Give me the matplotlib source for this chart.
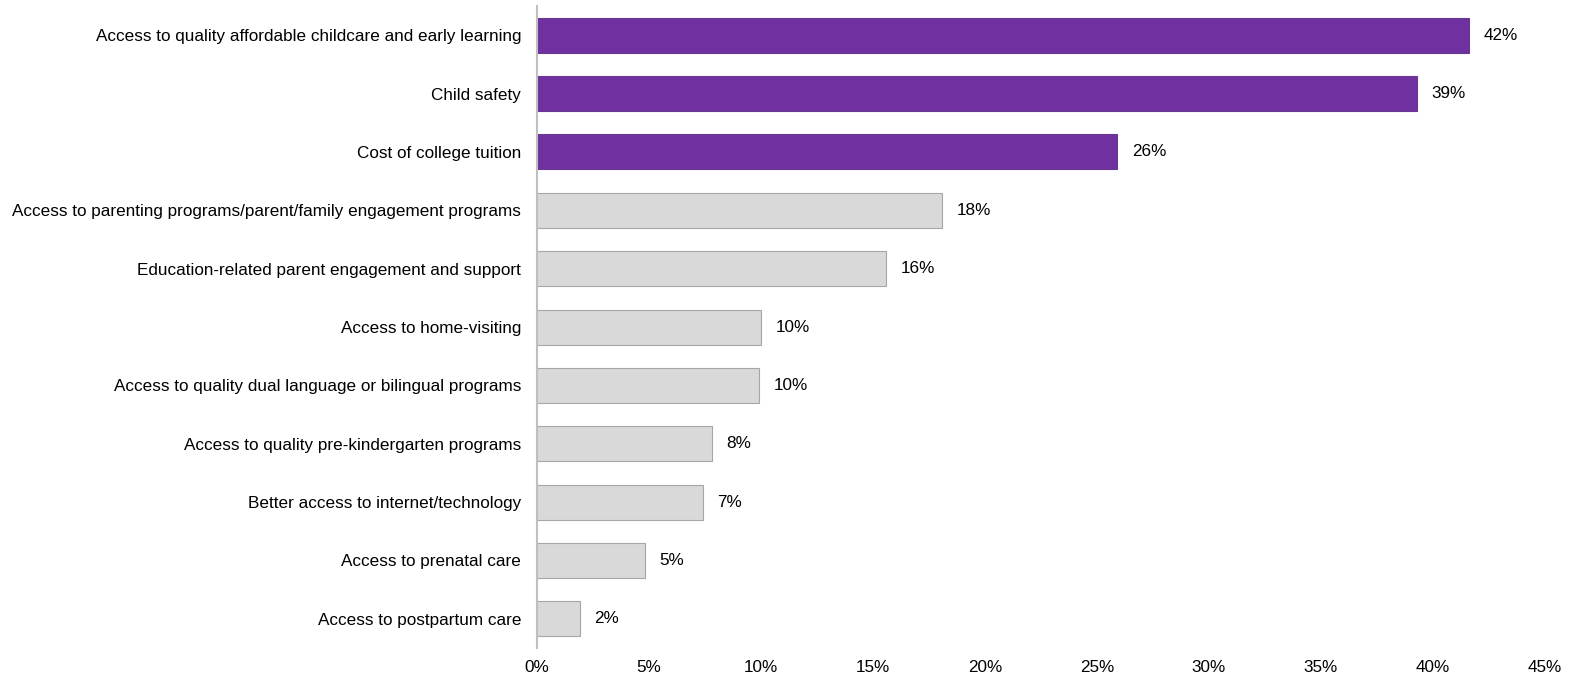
import matplotlib.pyplot as plt
from matplotlib.ticker import FuncFormatter

plt.rcParams['font.family'] = ['Liberation Sans', 'DejaVu Sans']

# categories, top to bottom
categories = [
    'Access to quality affordable childcare and early learning',
    'Child safety',
    'Cost of college tuition',
    'Access to parenting programs/parent/family engagement programs',
    'Education-related parent engagement and support',
    'Access to home-visiting',
    'Access to quality dual language or bilingual programs',
    'Access to quality pre-kindergarten programs',
    'Better access to internet/technology',
    'Access to prenatal care',
    'Access to postpartum care',
]
values = [41.6, 39.3, 25.9, 18.1, 15.6, 10.0, 9.9, 7.8, 7.4, 4.8, 1.9]
value_labels = ['42%', '39%', '26%', '18%', '16%', '10%', '10%', '8%', '7%', '5%', '2%']
highlight = [True, True, True] + [False] * 8
xticks = [0, 5, 10, 15, 20, 25, 30, 35, 40, 45]

purple = '#7030A0'
grey = '#D9D9D9'
fs = 12.3

fig = plt.figure(figsize=(15.72, 6.76), dpi=100)
ax = fig.add_axes([0.3416, 0.0414, 0.6412, 0.9496])

ypos = list(range(len(categories)))
colors = [purple if h else grey for h in highlight]
edges = ['#6A3A92' if h else '#A6A6A6' for h in highlight]
ax.barh(ypos, values, height=0.6, color=colors, edgecolor=edges, linewidth=0.8)

for y, v, lab in zip(ypos, values, value_labels):
    ax.text(v + 0.65, y, lab, va='center', ha='left', fontsize=fs)

ax.set_yticks(ypos)
ax.set_yticklabels(categories, fontsize=fs)
ax.set_ylim(len(categories) - 0.5, -0.5)
ax.set_xlim(0, 45)
ax.set_xticks(xticks)
ax.xaxis.set_major_formatter(FuncFormatter(lambda x, p: f'{x:.0f}%'))
ax.tick_params(axis='x', labelsize=fs, length=0, pad=8.5)
ax.tick_params(axis='y', length=0, pad=11.5)

for s in ['top', 'right', 'bottom']:
    ax.spines[s].set_visible(False)
ax.spines['left'].set_color('#BFBFBF')
ax.spines['left'].set_linewidth(1.5)

fig.savefig('out.png', dpi=100)
